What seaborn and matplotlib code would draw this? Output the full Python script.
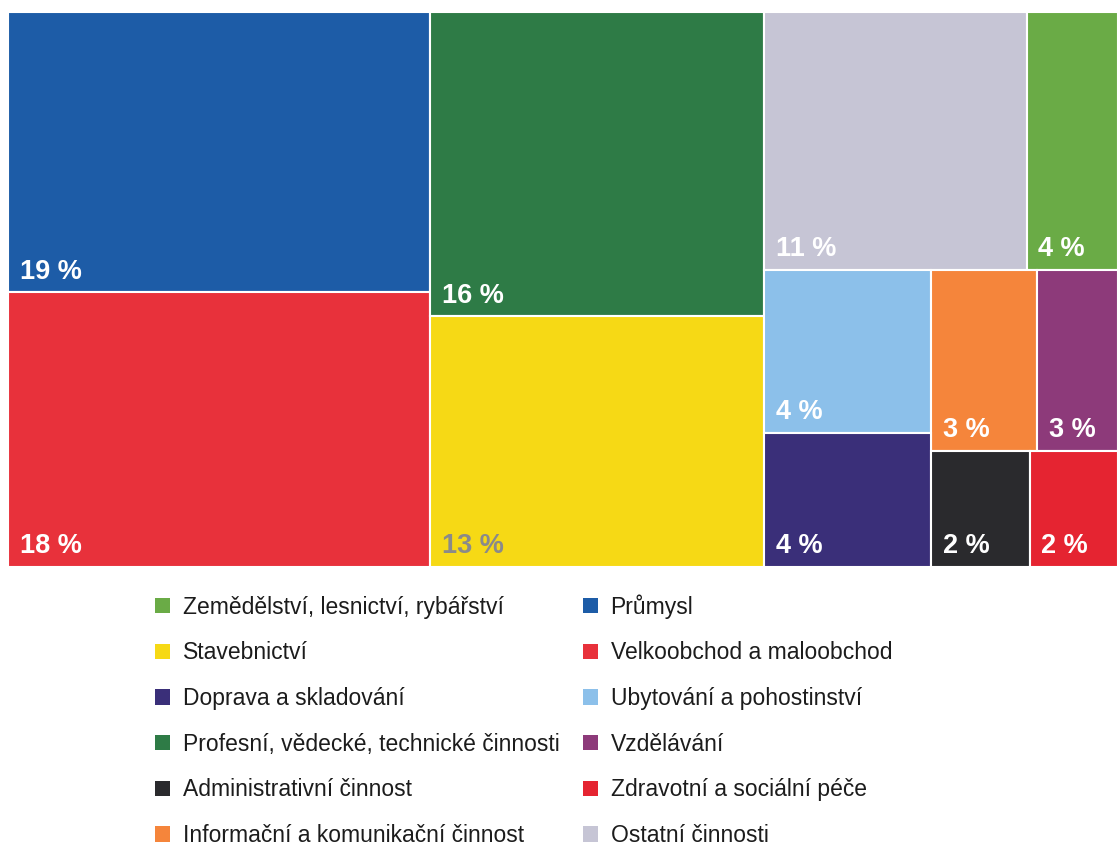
import matplotlib
matplotlib.use("Agg")
import matplotlib.pyplot as plt
import matplotlib.patches as mpatches
import seaborn as sns

sectors = ["Průmysl", "Velkoobchod a maloobchod",
           "Profesní, vědecké, technické činnosti", "Stavebnictví",
           "Ostatní činnosti", "Zemědělství, lesnictví, rybářství",
           "Ubytování a pohostinství", "Informační a komunikační činnost",
           "Vzdělávání", "Doprava a skladování",
           "Administrativní činnost", "Zdravotní a sociální péče"]
shown_pct = [19, 18, 16, 13, 11, 4, 4, 3, 3, 4, 2, 2]
area_share = [19.1, 18.7, 16.4, 13.5, 10.9, 3.8, 4.4, 3.1, 2.35, 3.6, 1.85, 1.66]
colors = ["#1d5ca7", "#e8313b", "#2e7b46", "#f6d915",
          "#c6c5d5", "#6aab46", "#8cc0ea", "#f5853b",
          "#8d3a7a", "#3a2f79", "#2a2a2d", "#e52431"]
label_colors = ["white"] * 12
label_colors[3] = "#8a8a8a"

legend_order = [5, 3, 9, 2, 10, 7,   # left column
                0, 1, 6, 8, 11, 4]   # right column

# nesting of the treemap: 'h' = side by side, 'v' = stacked top to bottom
tree = ("h", [("v", [0, 1]),
              ("v", [2, 3]),
              ("v", [("h", [4, 5]),
                     ("h", [("v", [6, 9]),
                            ("v", [("h", [7, 8]), ("h", [10, 11])])])])])


def size(node):
    if isinstance(node, int):
        return area_share[node]
    return sum(size(c) for c in node[1])


def layout(node, x, y, w, h, out):
    if isinstance(node, int):
        out[node] = (x, y, w, h)
        return
    kind, children = node
    total = size(node)
    if kind == "h":
        cx = x
        for c in children:
            cw = w * size(c) / total
            layout(c, cx, y, cw, h, out)
            cx += cw
    else:
        top = y + h
        for c in children:
            ch = h * size(c) / total
            layout(c, x, top - ch, w, ch, out)
            top -= ch


rects = {}
layout(tree, 0.0, 0.0, 1.0, 1.0, rects)

sns.set_theme(style="white")
plt.rcParams["font.family"] = ["Liberation Sans", "DejaVu Sans"]

fig = plt.figure(figsize=(11.18, 8.49), dpi=100)
ax = fig.add_axes([8 / 1118, 1 - 567 / 849, 1110 / 1118, 555 / 849])

idx = list(range(len(sectors)))
ax.bar([rects[i][0] for i in idx], [rects[i][3] for i in idx],
       width=[rects[i][2] for i in idx], bottom=[rects[i][1] for i in idx],
       align="edge", color=colors, edgecolor="white", linewidth=1.5)

for i in idx:
    x, y, w, h = rects[i]
    ax.annotate(f"{shown_pct[i]} %", (x, y), xytext=(8.5, 10),
                textcoords="offset points", ha="left", va="baseline",
                fontsize=19.5, fontweight="bold", color=label_colors[i])

ax.set_xlim(0, 1)
ax.set_ylim(0, 1)
ax.axis("off")

handles = [mpatches.Patch(facecolor=colors[i], edgecolor="none", label=sectors[i])
           for i in legend_order]
fig.legend(handles=handles, ncol=2, loc="upper left",
           bbox_to_anchor=(155 / 1118, 1 - 594 / 849), frameon=False,
           fontsize=16.5, labelcolor="#1c1c1c",
           handlelength=0.65, handleheight=0.65,
           handletextpad=0.57, labelspacing=0.99, columnspacing=1.0,
           borderpad=0, borderaxespad=0)

fig.savefig("out.png", dpi=100, facecolor="white")
